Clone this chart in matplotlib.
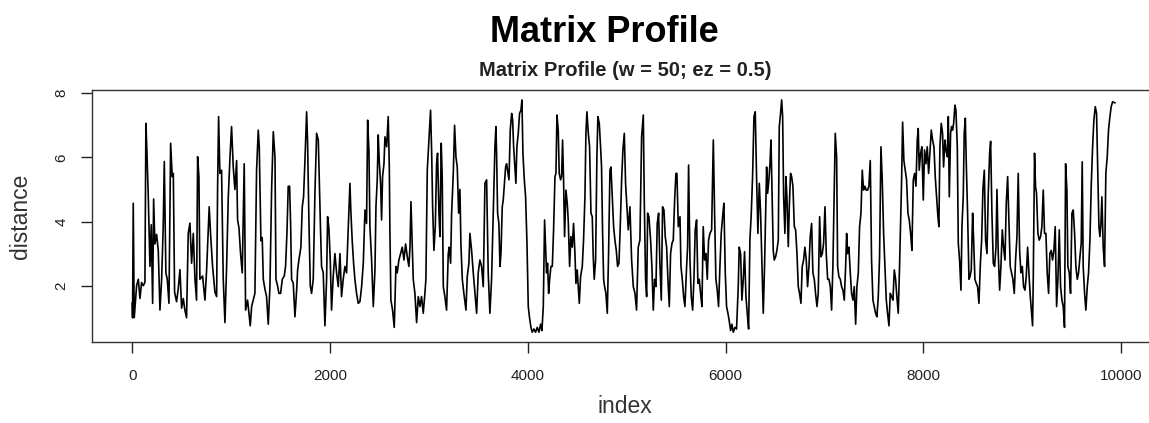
import matplotlib
matplotlib.use("Agg")
import matplotlib.pyplot as plt
import numpy as np

plt.rcParams['font.family'] = ['Liberation Sans', 'DejaVu Sans']

# valeurs, par tranches de l'index
idx_a = [0, 3, 10, 20, 44, 61, 78, 94, 111, 128, 138, 148, 162, 179, 192, 206, 216, 229, 246, 263,
         280, 297, 313, 324, 340, 354, 371, 388, 404, 415, 428, 448, 465, 482, 499, 516, 532, 549,
         566, 583, 600, 617, 634, 650, 661, 674, 684, 711, 735, 752, 768, 778, 792, 812, 836, 853,
         863, 873, 886, 903, 920, 937]
val_a = [1.45, 1.0, 4.57, 1.0, 2.0, 2.2, 1.6, 2.1, 2.0, 2.1, 7.06, 6.2, 4.77, 2.6, 3.9, 1.45, 4.7,
         3.3, 3.6, 3.1, 1.24, 2.2, 3.85, 5.87, 2.4, 2.2, 1.45, 6.44, 5.4, 5.5, 1.8, 1.5, 1.9, 2.5,
         1.3, 1.6, 1.24, 1.0, 3.63, 3.95, 2.7, 3.63, 2.2, 1.55, 6.02, 5.4, 2.2, 2.3, 1.55, 2.5, 3.74,
         4.46, 3.6, 2.6, 1.8, 1.66, 5.1, 7.27, 5.5, 5.6, 2.2, 0.85]

idx_b = [954, 971, 988, 1004, 1021, 1038, 1055, 1065, 1079, 1095, 1112, 1132, 1146, 1166, 1180,
         1193, 1207, 1223, 1240, 1257, 1274, 1284, 1301, 1314, 1325, 1341, 1358, 1375, 1392, 1409,
         1426, 1443, 1453, 1469, 1483, 1500, 1517, 1537, 1550, 1564, 1577, 1591, 1601, 1611, 1628,
         1645, 1662, 1672, 1685, 1705, 1719, 1732, 1746, 1763, 1773, 1786, 1800, 1813, 1830, 1847,
         1864, 1881, 1891, 1904, 1914, 1931, 1948, 1965, 1975, 1988, 2002, 2015, 2032, 2049, 2066,
         2083, 2100, 2116, 2133, 2150, 2167, 2184, 2201, 2211, 2224, 2238, 2251, 2268, 2285]
val_b = [2.6, 4.77, 6.0, 6.96, 5.7, 5.0, 5.9, 4.05, 3.8, 3.0, 2.4, 5.8, 1.24, 1.55, 1.14, 0.75,
         1.35, 1.55, 1.76, 5.6, 6.85, 6.33, 3.4, 3.5, 2.2, 1.9, 1.66, 0.8, 1.97, 5.0, 6.8, 6.0, 2.2,
         2.0, 1.76, 1.76, 2.2, 2.3, 2.6, 3.63, 5.1, 5.1, 3.94, 2.2, 2.07, 1.03, 1.86, 2.49, 2.8, 3.2,
         4.46, 4.77, 5.9, 7.42, 6.44, 4.05, 2.0, 1.76, 2.2, 4.88, 6.75, 6.54, 5.3, 3.7, 2.6, 2.4,
         0.75, 2.2, 4.15, 3.8, 2.8, 1.24, 2.3, 3.0, 2.4, 1.97, 3.0, 1.66, 2.2, 2.6, 2.4, 3.84, 5.19,
         4.26, 3.4, 2.7, 2.2, 1.76, 1.45]

idx_c = [2302, 2319, 2336, 2353, 2369, 2380, 2393, 2403, 2420, 2437, 2454, 2464, 2477, 2487, 2497,
         2511, 2521, 2531, 2545, 2555, 2572, 2588, 2599, 2605, 2615, 2632, 2649, 2666, 2679, 2696,
         2713, 2730, 2747, 2764, 2781, 2797, 2808, 2818, 2831, 2841, 2858, 2875, 2892, 2909, 2925,
         2942, 2959, 2969, 2983, 3000, 3016, 3027, 3037, 3050, 3064, 3077, 3087, 3101, 3111, 3124,
         3134, 3145, 3161, 3178, 3195, 3205, 3219, 3229, 3246, 3259, 3273, 3286, 3300, 3313, 3323,
         3337, 3353, 3374, 3387, 3404, 3414, 3431, 3448, 3465, 3482, 3498, 3515, 3532, 3549, 3566,
         3583, 3599, 3616, 3633, 3650, 3667, 3677]
val_c = [1.5, 1.97, 2.7, 4.36, 3.94, 7.16, 6.2, 3.84, 2.8, 1.35, 2.49, 4.46, 5.3, 6.7, 5.9, 5.19,
         4.05, 5.4, 5.8, 6.64, 6.33, 7.27, 5.7, 3.74, 1.55, 1.24, 0.7, 2.6, 2.4, 2.8, 3.0, 3.2, 2.8,
         3.3, 2.9, 2.6, 3.2, 4.62, 3.2, 2.2, 1.76, 0.85, 1.66, 1.35, 1.66, 1.14, 1.76, 2.2, 5.6, 6.54,
         7.47, 6.2, 4.46, 3.1, 3.84, 5.8, 6.13, 4.26, 3.53, 6.44, 5.4, 1.97, 1.66, 1.24, 3.0, 3.2, 2.7,
         4.26, 5.5, 7.0, 6.0, 5.7, 4.26, 5.0, 3.3, 2.2, 1.76, 1.24, 2.28, 2.7, 3.63, 3.1, 2.4, 1.76,
         1.14, 2.4, 2.8, 2.6, 1.97, 5.19, 5.3, 2.4, 1.14, 2.2, 4.26, 6.33, 6.96]

idx_d = [3684, 3694, 3707, 3718, 3728, 3741, 3751, 3761, 3775, 3785, 3795, 3809, 3822, 3836, 3846,
         3856, 3869, 3879, 3889, 3903, 3916, 3930, 3940, 3950, 3964, 3977, 3991, 4004, 4017, 4031,
         4044, 4061, 4078, 4095, 4112, 4129, 4142, 4156, 4169, 4179, 4189, 4199, 4210, 4220, 4233,
         4247, 4260, 4274, 4284, 4294, 4307, 4317, 4331, 4341, 4351, 4361, 4371, 4385, 4398, 4408,
         4422, 4435, 4449, 4462, 4476, 4486, 4499, 4510, 4520, 4533, 4550, 4563, 4577, 4587, 4597,
         4611, 4624, 4638, 4651, 4661, 4671, 4685, 4698, 4708, 4722, 4735, 4745, 4755, 4766, 4776,
         4789, 4803, 4816, 4830, 4840, 4853, 4867, 4880, 4894, 4907, 4921, 4934, 4948, 4961, 4975,
         4988, 5002, 5015]
val_d = [6.1, 4.26, 3.94, 2.6, 3.0, 4.46, 4.67, 5.1, 5.7, 5.8, 5.6, 5.3, 6.85, 7.37, 7.16, 6.33,
         5.7, 5.19, 6.33, 6.75, 7.37, 7.47, 7.79, 6.13, 5.3, 4.77, 3.32, 1.35, 1.0, 0.7, 0.55, 0.65,
         0.55, 0.7, 0.55, 0.8, 0.6, 1.35, 4.05, 3.2, 2.4, 2.7, 1.76, 2.2, 2.6, 2.6, 3.74, 5.4, 5.5,
         7.32, 6.85, 5.5, 5.3, 5.4, 6.54, 5.3, 3.53, 4.98, 4.57, 4.05, 2.6, 3.53, 3.2, 3.94, 3.0, 2.07,
         2.49, 1.97, 1.45, 2.28, 2.6, 3.42, 4.77, 6.75, 7.42, 6.75, 6.33, 4.26, 4.15, 2.9, 2.2, 2.8,
         6.02, 7.27, 7.06, 6.33, 5.7, 3.74, 2.2, 1.97, 1.76, 1.14, 3.0, 5.6, 5.7, 4.77, 3.84, 3.42,
         3.1, 2.6, 2.7, 3.84, 5.3, 6.23, 6.75, 5.19, 4.46, 3.74]

idx_e = [5032, 5049, 5066, 5083, 5099, 5116, 5133, 5150, 5167, 5177, 5190, 5201, 5211, 5224, 5241,
         5254, 5268, 5281, 5295, 5308, 5322, 5335, 5349, 5362, 5376, 5389, 5403, 5416, 5430, 5443,
         5457, 5470, 5484, 5497, 5507, 5521, 5538, 5548, 5561, 5575, 5588, 5605, 5615, 5625, 5639,
         5652, 5666, 5679, 5692, 5706, 5719, 5733, 5746, 5760, 5773, 5787, 5800, 5814, 5827, 5841,
         5858, 5875, 5888, 5901, 5915, 5928, 5942, 5955, 5969, 5982, 5996, 6009, 6023, 6036, 6050,
         6063, 6077, 6094, 6110, 6127, 6137, 6151, 6164, 6178, 6191, 6205, 6218, 6232, 6245, 6259,
         6272, 6286, 6299, 6313, 6326, 6340, 6353, 6367, 6380, 6393]
val_e = [4.46, 2.8, 1.97, 1.76, 1.24, 3.2, 3.42, 6.64, 7.32, 4.67, 2.2, 1.66, 4.26, 4.15, 3.42,
         2.6, 1.24, 2.2, 1.97, 3.94, 4.26, 2.7, 1.55, 4.46, 4.36, 3.53, 3.2, 2.2, 1.35, 3.0, 3.32,
         3.42, 4.67, 5.5, 5.5, 3.84, 4.15, 2.6, 2.2, 1.66, 1.35, 2.6, 3.2, 5.76, 2.8, 1.66, 1.24, 2.2,
         3.74, 4.05, 2.07, 2.2, 1.76, 1.35, 3.84, 2.8, 3.0, 2.2, 3.42, 3.63, 3.74, 6.54, 4.26, 2.2,
         1.86, 1.35, 2.6, 3.63, 4.15, 4.57, 2.4, 1.35, 1.14, 0.9, 0.6, 0.8, 0.55, 0.7, 0.65, 1.97,
         3.2, 3.0, 1.55, 2.2, 3.06, 1.66, 1.14, 0.65, 3.42, 4.26, 5.4, 7.27, 7.42, 5.3, 3.63, 5.19,
         4.26, 2.7, 1.14, 2.6]

idx_f = [6414, 6424, 6437, 6448, 6458, 6468, 6481, 6491, 6505, 6518, 6532, 6542, 6555, 6566, 6576,
         6586, 6599, 6609, 6619, 6633, 6643, 6656, 6667, 6680, 6694, 6707, 6721, 6734, 6747, 6761,
         6774, 6788, 6801, 6815, 6828, 6842, 6855, 6869, 6882, 6896, 6909, 6923, 6936, 6950, 6963,
         6977, 6990, 7004, 7017, 7031, 7044, 7058, 7071, 7084, 7098, 7108, 7122, 7132, 7145, 7159,
         7172, 7186, 7199, 7213, 7223, 7233, 7246, 7260, 7273, 7287, 7300, 7314, 7327, 7341, 7354,
         7368, 7381, 7394, 7408, 7421, 7435, 7448, 7462, 7475, 7489, 7502, 7516, 7529, 7543, 7556,
         7570, 7583, 7597, 7610, 7624, 7637, 7651, 7664, 7678, 7691, 7705, 7718, 7731, 7745, 7758]
val_f = [5.7, 4.88, 5.3, 5.8, 6.54, 5.1, 3.1, 2.8, 2.9, 3.1, 3.42, 6.96, 7.37, 7.79, 7.27, 4.77,
         3.63, 5.4, 4.77, 3.22, 4.46, 5.5, 5.4, 5.1, 3.84, 3.74, 3.0, 1.97, 1.76, 1.45, 2.6, 2.8, 3.2,
         2.8, 1.97, 2.6, 3.53, 3.94, 2.4, 2.2, 1.76, 1.35, 1.76, 4.15, 2.9, 3.0, 3.32, 4.46, 3.0, 2.2,
         2.2, 1.97, 1.24, 2.6, 5.1, 6.75, 6.0, 2.6, 2.28, 2.2, 1.97, 1.86, 1.55, 2.6, 3.63, 3.0, 3.2,
         2.4, 1.76, 1.55, 1.97, 0.8, 1.97, 2.4, 3.84, 4.26, 5.6, 4.98, 5.1, 4.98, 4.98, 5.1, 5.9, 2.8,
         1.55, 1.35, 1.14, 1.03, 1.66, 2.9, 6.33, 5.3, 3.63, 2.6, 1.55, 1.14, 0.75, 1.76, 1.66, 1.55,
         2.49, 2.2, 1.66, 1.14, 2.6]

idx_g = [7779, 7789, 7802, 7816, 7829, 7843, 7856, 7870, 7883, 7897, 7910, 7924, 7937, 7947, 7957,
         7971, 7984, 7998, 8011, 8025, 8038, 8052, 8065, 8079, 8092, 8106, 8119, 8133, 8146, 8156,
         8166, 8180, 8193, 8203, 8217, 8227, 8241, 8251, 8261, 8274, 8284, 8294, 8305, 8318, 8328,
         8342, 8352, 8365, 8379, 8389, 8402, 8412, 8423, 8433, 8446, 8460, 8470, 8483, 8497, 8507,
         8520, 8534, 8547, 8561, 8574, 8588, 8601, 8615, 8628, 8642, 8655, 8669, 8679, 8692, 8706,
         8719, 8733, 8743, 8756, 8770, 8783, 8797, 8810, 8824, 8837, 8851, 8864, 8877, 8891, 8904,
         8918, 8931, 8945, 8958, 8972, 8985, 8999, 9012, 9026, 9039, 9053, 9066, 9080, 9093, 9103]
val_g = [5.3, 7.1, 5.9, 5.6, 5.3, 4.26, 4.05, 3.63, 3.1, 5.3, 5.5, 5.1, 6.54, 6.9, 5.6, 6.13, 6.33,
         4.67, 6.23, 5.8, 6.33, 5.5, 6.13, 6.85, 6.54, 6.33, 5.4, 4.77, 4.15, 3.84, 6.33, 7.06, 6.75,
         5.7, 6.54, 6.23, 6.02, 7.27, 4.77, 6.75, 6.96, 6.85, 7.06, 7.63, 7.47, 6.33, 3.32, 2.8, 1.86,
         3.84, 4.77, 6.75, 7.22, 5.8, 4.26, 2.2, 2.28, 2.49, 4.26, 3.42, 2.2, 2.07, 1.97, 1.45, 2.6,
         3.42, 5.0, 5.6, 3.42, 3.0, 4.88, 6.13, 6.5, 4.26, 2.7, 2.6, 3.2, 5.0, 3.0, 1.86, 2.6, 3.74,
         3.2, 2.8, 4.57, 5.4, 4.05, 2.6, 2.4, 2.2, 1.76, 2.8, 3.53, 5.5, 3.1, 2.4, 2.6, 1.97, 1.86,
         2.28, 3.2, 2.4, 1.66, 1.14, 0.75]

idx_h = [9110, 9123, 9133, 9143, 9157, 9170, 9184, 9197, 9211, 9224, 9238, 9251, 9265, 9278, 9292,
         9305, 9319, 9332, 9346, 9359, 9373, 9386, 9400, 9413, 9426, 9437, 9450, 9460, 9474, 9487,
         9501, 9514, 9528, 9541, 9555, 9568, 9582, 9595, 9605, 9615, 9629, 9642, 9656, 9669, 9683,
         9696, 9710, 9723, 9737, 9750, 9764, 9774, 9784, 9794, 9804, 9817, 9831, 9844, 9858, 9871,
         9885, 9898, 9912, 9935]
val_h = [2.2, 6.13, 5.1, 4.88, 3.63, 3.42, 3.53, 3.84, 4.98, 3.63, 3.63, 2.4, 1.76, 3.0, 3.1, 2.8,
         3.1, 3.84, 1.35, 2.2, 3.74, 1.97, 1.55, 1.35, 0.7, 5.8, 4.98, 2.6, 2.4, 1.76, 4.26, 4.36,
         3.63, 2.6, 2.2, 2.4, 2.9, 3.32, 5.86, 2.6, 1.76, 1.24, 1.97, 2.4, 3.42, 5.1, 6.33, 7.16,
         7.58, 7.37, 5.3, 3.84, 3.53, 3.94, 4.77, 3.22, 2.6, 5.5, 6.02, 6.85, 7.27, 7.58, 7.73, 7.7]

x_ticks = [0, 2000, 4000, 6000, 8000, 10000]
y_ticks = [2, 4, 6, 8]

index = np.concatenate([idx_a, idx_b, idx_c, idx_d, idx_e, idx_f, idx_g, idx_h])
distance = np.concatenate([val_a, val_b, val_c, val_d, val_e, val_f, val_g, val_h])

W, H = 1149, 423
fig = plt.figure(figsize=(W / 100, H / 100), dpi=100)
ax = fig.add_axes([92.3 / W, 1 - 342.3 / H, (1155.8 - 92.3) / W, (342.3 - 90) / H])

ax.plot(index, distance, color='black', lw=1.2)
ax.set_xlim(-404, 10349)
ax.set_ylim(0.235, 8.10)

ax.set_xticks(x_ticks)
ax.set_yticks(y_ticks)
ax.tick_params(axis='x', length=8, width=1, pad=11, labelsize=11, colors='#222222')
ax.tick_params(axis='y', length=8, width=1, pad=9, labelsize=11, colors='#222222')
for lab in ax.get_yticklabels():
    lab.set_rotation(90)
    lab.set_va('center')
for s in ax.spines.values():
    s.set_color('#333333')
    s.set_linewidth(1)

fig.text(604 / W, 1 - 33 / H, 'Matrix Profile', ha='center', va='center',
         fontsize=26, fontweight='bold')
fig.text(625 / W, 1 - 71 / H, 'Matrix Profile (w = 50; ez = 0.5)', ha='center', va='center',
         fontsize=14.5, fontweight='bold', color='#222222')
fig.text(625 / W, 1 - 406 / H, 'index', ha='center', va='center', fontsize=16.5, color='#333333')
fig.text(20 / W, 1 - 216 / H, 'distance', ha='center', va='center', rotation=90,
         fontsize=16.5, color='#333333')

fig.savefig('out.png', dpi=100)
